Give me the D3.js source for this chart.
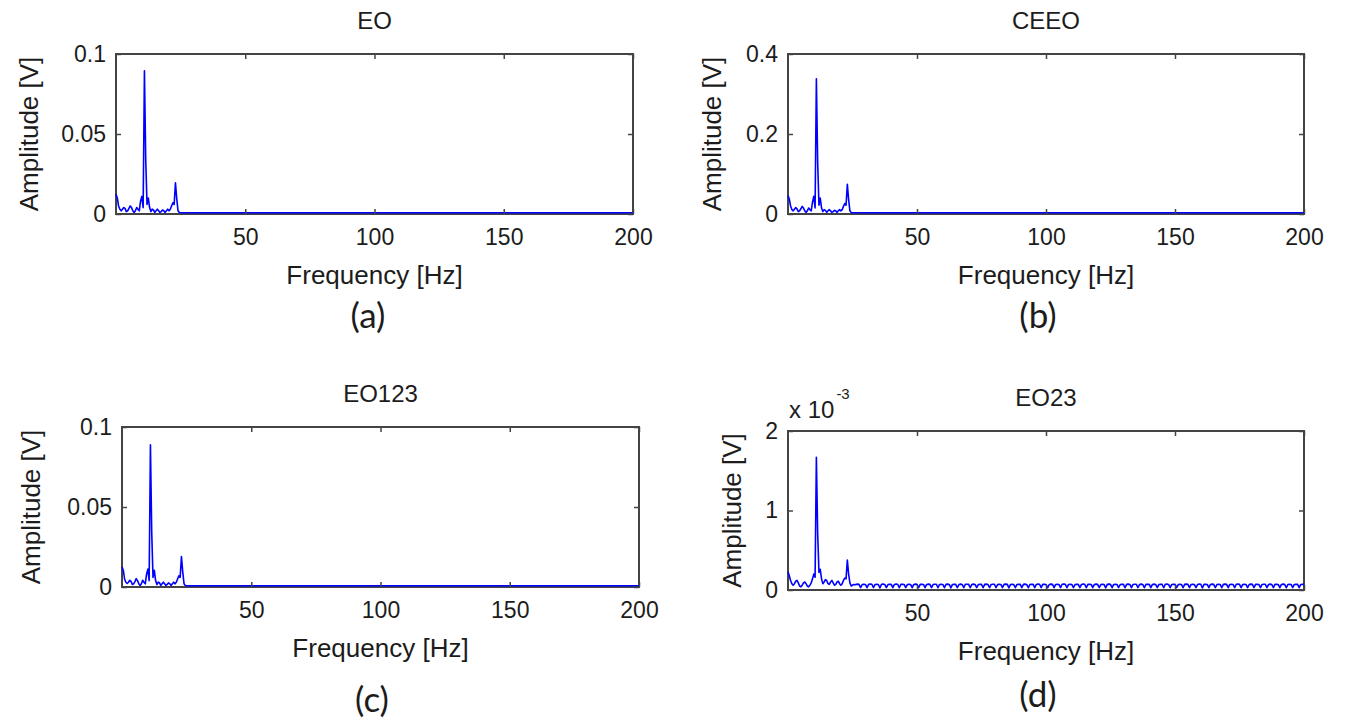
<!DOCTYPE html>
<html><head><meta charset="utf-8">
<script src="https://cdn.jsdelivr.net/npm/d3@7"></script>
<style>
body{margin:0;background:#fff}
svg{display:block}
text{font-family:"Liberation Sans",Arial,Helvetica,sans-serif;fill:#1c1c1c}
</style>
</head><body>
<svg id="chart" width="1347" height="721"></svg>
<script>
// ---------------- data ----------------
const titles = ["EO", "CEEO", "EO123", "EO23"];
const subLabels = ["(a)", "(b)", "(c)", "(d)"];
const xLabel = "Frequency [Hz]";
const yLabel = "Amplitude [V]";
const xTicks = [50, 100, 150, 200];
const xDomain = [0, 200];
const yTicksA = [0, 0.05, 0.1];
const yTickLabelsA = ["0", "0.05", "0.1"];
const yTicksB = [0, 0.2, 0.4];
const yTickLabelsB = ["0", "0.2", "0.4"];
const yTicksC = [0, 0.05, 0.1];
const yTickLabelsC = ["0", "0.05", "0.1"];
const yTicksD = [0, 1, 2];          // in units of 1e-3 V
const yTickLabelsD = ["0", "1", "2"];
const exponentBase = "x 10";
const exponentPower = "-3";

// low-frequency samples, 0 .. 26 Hz every 0.5 Hz
const lowStep = 0.5;
const eoLow = [0.0125,0.010,0.005,0.003,0.002,0.003,0.004,0.0035,0.0015,0.002,
  0.0035,0.005,0.004,0.002,0.001,0.002,0.004,0.003,0.002,0.008,
  0.011,0.004,0.0895,0.034,0.006,0.010,0.004,0.0015,0.003,0.0025,
  0.001,0.002,0.003,0.002,0.001,0.0015,0.0025,0.002,0.001,0.002,
  0.003,0.002,0.003,0.005,0.007,0.006,0.0195,0.0095,0.002,0.0009,
  0.0008,0.0008,0.0008];
const ceeoLow = [0.046,0.038,0.020,0.011,0.008,0.012,0.016,0.013,0.006,0.008,
  0.013,0.019,0.015,0.008,0.004,0.008,0.015,0.011,0.008,0.030,
  0.044,0.015,0.338,0.130,0.022,0.040,0.015,0.006,0.011,0.009,
  0.004,0.008,0.011,0.008,0.004,0.006,0.009,0.008,0.004,0.008,
  0.011,0.008,0.011,0.019,0.026,0.022,0.074,0.036,0.008,0.004,
  0.003,0.003,0.003];
const eo123Low = [0.0127,0.0105,0.005,0.003,0.0022,0.003,0.0042,0.0035,0.0016,0.002,
  0.0034,0.0052,0.004,0.002,0.001,0.002,0.0042,0.003,0.002,0.008,
  0.0112,0.004,0.0888,0.034,0.006,0.0105,0.004,0.0015,0.003,0.0026,
  0.001,0.002,0.003,0.002,0.001,0.0016,0.0026,0.002,0.001,0.002,
  0.003,0.002,0.003,0.005,0.007,0.006,0.019,0.0095,0.002,0.0009,
  0.0008,0.0008,0.0008];
const eo23Low = [0.23,0.18,0.12,0.08,0.06,0.08,0.11,0.12,0.09,0.05,
  0.04,0.06,0.09,0.10,0.08,0.05,0.04,0.06,0.09,0.14,
  0.20,0.16,1.67,0.71,0.22,0.26,0.14,0.08,0.10,0.13,
  0.12,0.08,0.07,0.10,0.12,0.09,0.06,0.07,0.10,0.11,
  0.08,0.06,0.08,0.12,0.15,0.14,0.377,0.20,0.09,0.05,
  0.06,0.07,0.065];

// high-frequency tails
const flatTailFreq = [26.5, 200];
const eoTail = [0.0008, 0.0008];
const ceeoTail = [0.003, 0.003];
const eo123Tail = [0.0008, 0.0008];
const eo23TailStart = 26.25;
const eo23TailEnd = 200;
const eo23Tail = [
  0.07,0.074,0.071,0.03,0.069,0.073,0.07,0.028,0.071,0.074,0.072,0.03,0.07,0.073,0.069,0.027,0.072,0.074,0.07,0.03,
  0.069,0.073,0.071,0.029,0.07,0.074,0.072,0.028,0.071,0.073,0.07,0.03,0.068,0.073,0.07,0.029,0.07,0.074,0.071,0.028,
  0.071,0.073,0.07,0.029,0.07,0.074,0.071,0.03,0.069,0.073,0.072,0.028,0.07,0.073,0.07,0.029,0.071,0.074,0.07,0.027,
  0.07,0.073,0.071,0.03,0.069,0.074,0.07,0.029,0.072,0.073,0.071,0.028,0.07,0.074,0.07,0.03,0.069,0.073,0.071,0.029,
  0.071,0.074,0.07,0.028,0.07,0.073,0.072,0.03,0.069,0.073,0.07,0.029,0.071,0.074,0.071,0.027,0.07,0.073,0.069,0.029,
  0.07,0.073,0.071,0.03,0.071,0.074,0.07,0.028,0.069,0.073,0.071,0.029,0.07,0.074,0.072,0.03,0.071,0.073,0.07,0.028,
  0.069,0.074,0.071,0.029,0.07,0.073,0.07,0.03,0.072,0.074,0.071,0.028,0.07,0.073,0.07,0.029,0.069,0.073,0.071,0.03,
  0.07,0.074,0.072,0.028,0.071,0.073,0.07,0.029,0.07,0.074,0.071,0.03,0.069,0.073,0.07,0.027,0.071,0.074,0.071,0.029,
  0.07,0.073,0.07,0.03,0.069,0.073,0.071,0.028,0.071,0.074,0.07,0.029,0.07,0.073,0.072,0.03,0.069,0.074,0.07,0.028,
  0.071,0.073,0.071,0.029,0.07,0.074,0.07,0.03,0.069,0.073,0.071,0.028,0.072,0.074,0.07,0.029,0.07,0.073,0.071,0.03,
  0.069,0.073,0.07,0.028,0.071,0.074,0.071,0.029,0.07,0.073,0.07,0.03,0.069,0.074,0.072,0.027,0.071,0.073,0.07,0.029,
  0.07,0.074,0.071,0.03,0.069,0.073,0.07,0.028,0.071,0.074,0.071,0.029,0.07,0.073,0.07,0.03,0.072,0.074,0.071,0.028,
  0.07,0.073,0.07,0.029,0.069,0.074,0.071,0.03,0.071,0.073,0.07,0.028,0.07,0.073,0.072,0.029,0.069,0.074,0.07,0.03,
  0.071,0.073,0.07,0.029,0.07,0.074,0.071,0.028,0.069,0.073,0.07,0.03,0.07,0.073,0.071,0.029,0.07,0.073,0.07
];

// ---------------- layout ----------------
const boxes = [
  {x:116, y:54,  w:517, h:160},
  {x:788, y:54,  w:516, h:160},
  {x:122, y:427, w:517, h:160},
  {x:788, y:431, w:516, h:159}
];
const yLabelX = [38, 721, 40, 741];
const subLabelPos = [[368, 328], [1038, 328], [372, 712], [1038, 707]];

function lowSeries(arr) { return arr.map((v, i) => [i * lowStep, v]); }
function flatTail(vals) { return flatTailFreq.map((f, i) => [f, vals[i]]); }
function evenTail(vals, f0, f1) {
  const st = (f1 - f0) / (vals.length - 1);
  return vals.map((v, i) => [f0 + i * st, v]);
}

const seriesList = [
  lowSeries(eoLow).concat(flatTail(eoTail)),
  lowSeries(ceeoLow).concat(flatTail(ceeoTail)),
  lowSeries(eo123Low).concat(flatTail(eo123Tail)),
  lowSeries(eo23Low).concat(evenTail(eo23Tail, eo23TailStart, eo23TailEnd))
];
const yTickSets = [yTicksA, yTicksB, yTicksC, yTicksD];
const yTickLabelSets = [yTickLabelsA, yTickLabelsB, yTickLabelsC, yTickLabelsD];

const svg = d3.select("#chart");
svg.append("rect").attr("width", 1347).attr("height", 721).attr("fill", "#fff");

const FS_TICK = 23, FS_LABEL = 26, FS_TITLE = 24;

boxes.forEach((b, i) => {
  const yt = yTickSets[i];
  const x = d3.scaleLinear().domain(xDomain).range([b.x, b.x + b.w]);
  const y = d3.scaleLinear().domain([yt[0], yt[yt.length - 1]]).range([b.y + b.h, b.y]);
  const g = svg.append("g");

  // frame
  g.append("rect").attr("x", b.x).attr("y", b.y).attr("width", b.w).attr("height", b.h)
    .attr("fill", "none").attr("stroke", "#444").attr("stroke-width", 2);

  // data line
  g.append("path").datum(seriesList[i])
    .attr("fill", "none").attr("stroke", "#0000ff").attr("stroke-width", 1.6)
    .attr("stroke-linejoin", "round")
    .attr("d", d3.line().x(d => x(d[0])).y(d => y(d[1])));

  const tickLabelFmt = (d) => yTickLabelSets[i][yt.indexOf(d)];

  // axes (ticks inside like MATLAB)
  const axB = g.append("g").attr("transform", `translate(0,${b.y + b.h})`)
    .call(d3.axisBottom(x).tickValues(xTicks).tickSizeInner(-5).tickSizeOuter(0).tickPadding(15));
  const axT = g.append("g").attr("transform", `translate(0,${b.y})`)
    .call(d3.axisTop(x).tickValues(xTicks).tickSizeInner(-5).tickSizeOuter(0).tickFormat(""));
  const axL = g.append("g").attr("transform", `translate(${b.x},0)`)
    .call(d3.axisLeft(y).tickValues(yt).tickSizeInner(-5).tickSizeOuter(0).tickPadding(10).tickFormat(tickLabelFmt));
  const axR = g.append("g").attr("transform", `translate(${b.x + b.w},0)`)
    .call(d3.axisRight(y).tickValues(yt).tickSizeInner(-5).tickSizeOuter(0).tickFormat(""));
  [axB, axT, axL, axR].forEach(a => {
    a.select(".domain").remove();
    a.selectAll(".tick line").attr("stroke", "#444").attr("stroke-width", 1.5);
    a.selectAll("text").attr("font-size", FS_TICK).attr("fill", "#1c1c1c")
      .attr("font-family", "'Liberation Sans', Arial, sans-serif");
  });

  // title
  g.append("text").attr("x", b.x + b.w / 2).attr("y", b.y - 25)
    .attr("text-anchor", "middle").attr("font-size", FS_TITLE).text(titles[i]);

  // x label
  g.append("text").attr("x", b.x + b.w / 2).attr("y", b.y + b.h + 70)
    .attr("text-anchor", "middle").attr("font-size", FS_LABEL).text(xLabel);

  // y label
  g.append("text").attr("transform", `translate(${yLabelX[i]},${b.y + b.h / 2}) rotate(-90)`)
    .attr("text-anchor", "middle").attr("font-size", FS_LABEL).text(yLabel);

  // sub-figure label
  g.append("text").attr("x", subLabelPos[i][0]).attr("y", subLabelPos[i][1])
    .attr("text-anchor", "middle").attr("font-size", 35)
    .style("font-family", "Lato, 'Open Sans', sans-serif").attr("fill", "#111").text(subLabels[i]);

  if (i === 3) {
    const ex = g.append("text").attr("x", b.x + 1).attr("y", b.y - 13).attr("font-size", 24);
    ex.append("tspan").text(exponentBase);
    ex.append("tspan").attr("dx", 2).attr("dy", -19).attr("font-size", 15).text(exponentPower);
  }
});
</script>
</body></html>
